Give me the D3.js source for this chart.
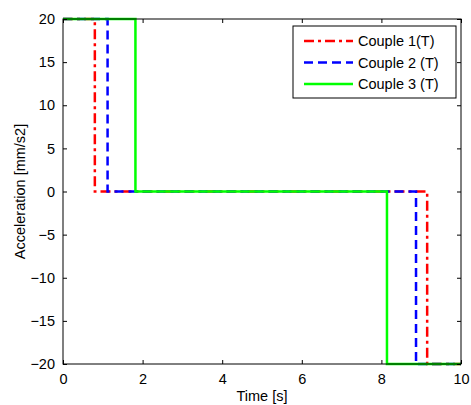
<!DOCTYPE html>
<html>
<head>
<meta charset="utf-8">
<script src="https://cdn.jsdelivr.net/npm/d3@7"></script>
<style>
  body { margin: 0; background: #fff; }
  text { font-family: "Liberation Sans", Arial, sans-serif; fill: #000; }
</style>
</head>
<body>
<div class="chart"></div>
<script>
var svgWidth = 471;
var svgHeight = 405;

var margin = { top: 19, right: 10, bottom: 41, left: 63 };

var width = svgWidth - margin.left - margin.right;
var height = svgHeight - margin.top - margin.bottom;

// step profiles: switching times and levels for each couple
var seriesNames = ["Couple 1(T)", "Couple 2 (T)", "Couple 3 (T)"];
var seriesColors = ["#ff0000", "#0000ff", "#00ff00"];
var seriesDash = ["10,4,3,4", "9,5", null];
var times1 = [0, 0.8, 0.8, 9.15, 9.15, 10];
var values1 = [20, 20, 0, 0, -20, -20];
var times2 = [0, 1.12, 1.12, 8.87, 8.87, 10];
var values2 = [20, 20, 0, 0, -20, -20];
var times3 = [0, 1.82, 1.82, 8.14, 8.14, 10];
var values3 = [20, 20, 0, 0, -20, -20];

var xTicks = [0, 2, 4, 6, 8, 10];
var yTicks = [-20, -15, -10, -5, 0, 5, 10, 15, 20];

var series = [
  { name: seriesNames[0], t: times1, v: values1 },
  { name: seriesNames[1], t: times2, v: values2 },
  { name: seriesNames[2], t: times3, v: values3 }
];

var svg = d3.select(".chart")
  .append("svg")
  .attr("width", svgWidth)
  .attr("height", svgHeight);

var chart = svg.append("g")
  .attr("transform", "translate(" + margin.left + "," + margin.top + ")");

var x = d3.scaleLinear().domain([0, 10]).range([0, width]);
var y = d3.scaleLinear().domain([-20, 20]).range([height, 0]);

// lines
var line = d3.line()
  .x(function(d) { return x(d[0]); })
  .y(function(d) { return y(d[1]); });

series.forEach(function(s, i) {
  var pts = s.t.map(function(t, j) { return [t, s.v[j]]; });
  chart.append("path")
    .attr("d", line(pts))
    .attr("fill", "none")
    .attr("stroke", seriesColors[i])
    .attr("stroke-width", 2.5)
    .attr("stroke-dasharray", seriesDash[i]);
});

// axes, matlab style: ticks inside on all four sides
function styleAxis(g) {
  g.select(".domain").remove();
  g.selectAll("line").attr("stroke", "#000");
  g.selectAll("text").style("font-size", "14.5px");
}

chart.append("g")
  .attr("transform", "translate(0," + height + ")")
  .call(d3.axisBottom(x).tickValues(xTicks).tickSize(-4).tickPadding(10))
  .call(styleAxis);

chart.append("g")
  .call(d3.axisTop(x).tickValues(xTicks).tickSize(-4).tickFormat(""))
  .call(styleAxis);

chart.append("g")
  .call(d3.axisLeft(y).tickValues(yTicks).tickSize(-4).tickPadding(8))
  .call(styleAxis);

chart.append("g")
  .attr("transform", "translate(" + width + ",0)")
  .call(d3.axisRight(y).tickValues(yTicks).tickSize(-4).tickFormat(""))
  .call(styleAxis);

chart.append("rect")
  .attr("width", width)
  .attr("height", height)
  .attr("fill", "none")
  .attr("stroke", "#000")
  .attr("stroke-width", 1);

// legend
var legend = chart.append("g")
  .attr("transform", "translate(" + (293 - margin.left) + "," + (26 - margin.top) + ")");

legend.append("rect")
  .attr("width", 163)
  .attr("height", 72)
  .attr("fill", "#fff")
  .attr("stroke", "#000");

series.forEach(function(s, i) {
  var row = legend.append("g")
    .attr("transform", "translate(0," + (15 + i * 21.5) + ")");
  row.append("line")
    .attr("x1", 11).attr("x2", 60)
    .attr("stroke", seriesColors[i])
    .attr("stroke-width", 2.5)
    .attr("stroke-dasharray", seriesDash[i]);
  row.append("text")
    .attr("x", 65)
    .attr("dy", "0.35em")
    .style("font-size", "14.5px")
    .text(s.name);
});

// axis labels
svg.append("text")
  .attr("transform", "rotate(-90)")
  .attr("x", -(margin.top + height / 2))
  .attr("y", 25)
  .attr("text-anchor", "middle")
  .style("font-size", "14.5px")
  .text("Acceleration [mm/s2]");

svg.append("text")
  .attr("x", margin.left + width / 2)
  .attr("y", 401)
  .attr("text-anchor", "middle")
  .style("font-size", "14.5px")
  .text("Time [s]");
</script>
</body>
</html>
